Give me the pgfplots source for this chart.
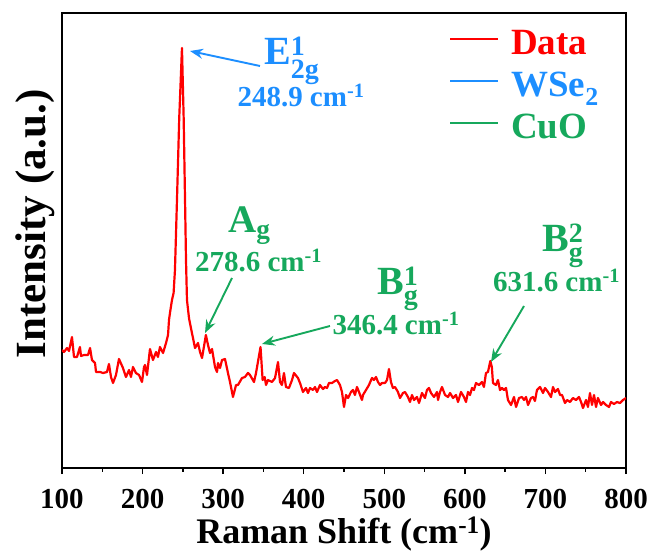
\documentclass[border=0pt]{standalone}
\usepackage{amsmath}
\usepackage{fontspec}
\setmainfont{Liberation Serif}
\usepackage{pgfplots}
\pgfplotsset{compat=1.18}
\usetikzlibrary{arrows.meta}
\definecolor{myblue}{RGB}{28,142,255}
\definecolor{mygreen}{RGB}{22,168,92}
\pgfplotstableread{
x y
100 118
102.5 116
106.2 120
108.7 117
112.4 131
114.9 111
118.6 111
122.3 121
123.6 112
127.3 113
132.3 113
134.8 120
137.2 108
141.0 105
142.2 96
147.2 96
150.9 95
155.8 96
158.3 104
160.8 91
163.3 85
167.0 93
170.7 109
175.7 100
179.4 91
183.2 98
185.6 91
188.1 101
191.8 95
195.6 93
199.3 86
201.8 101
203.0 103
205.5 93
209.2 119
212.9 108
216.7 116
219.1 111
221.6 121
225.4 115
229.1 125
231.6 133
232.8 148
234.0 155
236.5 168
238.5 175
240.2 198
242.7 268
245.5 350
248.9 420
251.0 350
252.7 268
253.9 208
255.1 168
257.6 150
258.8 145
261.3 135
265.1 120
268.8 125
271.3 116
273.8 110
278.6 133
281.2 123
283.7 115
286.2 119
289.9 101
292.4 96
293.6 105
296.1 100
298.6 108
302.3 109
306.0 95
308.5 86
312.2 71
316.0 83
318.4 83
323.4 90
327.1 91
330.8 95
333.3 93
338.3 86
340.8 95
346.4 121
349.0 88
351.5 91
353.2 83
355.7 88
360.6 86
364.4 90
368.1 106
370.6 86
373.0 83
375.5 95
378.0 81
381.7 80
385.5 88
387.9 95
392.9 90
395.4 85
399.1 76
402.8 80
405.3 75
407.8 80
411.5 78
414.0 81
416.5 76
420.2 83
423.9 79
426.4 81
428.9 80
431.4 85
435.1 85
438.8 87
441.3 88
445.0 83
447.5 76
450.0 61
452.5 73
455.0 70
458.7 76
461.2 78
463.6 73
466.1 81
468.6 76
472.3 68
473.6 73
477.3 78
481.0 83
484.7 90
487.2 88
489.7 91
492.2 86
494.7 83
497.2 85
500.9 85
503.4 88
505.8 99
508.3 86
510.8 80
513.3 81
517.0 76
519.5 70
523.2 75
525.7 76
529.4 71
531.9 66
534.4 73
536.9 68
540.6 71
543.1 65
546.8 75
550.5 70
553.0 78
555.5 80
558.0 75
561.7 71
565.4 76
566.7 68
569.2 76
571.6 81
575.4 73
579.1 71
581.6 75
585.3 70
589.0 73
591.5 66
595.2 76
598.9 71
601.4 66
603.9 76
606.4 73
608.9 80
611.3 78
613.8 85
617.5 83
621.3 86
623.7 81
626.2 95
628.7 96
631.6 107
633.5 101
634.9 85
638.6 83
641.1 88
643.6 78
646.1 80
648.6 78
651.1 80
653.5 68
657.3 63
661.0 71
663.5 61
667.2 70
670.9 71
673.4 68
675.9 71
678.4 63
682.1 70
684.6 71
687.0 67
689.5 78
693.3 81
697.0 75
699.5 80
703.2 76
706.9 71
709.4 81
711.9 76
715.6 79
718.1 73
720.6 73
724.3 65
726.8 68
730.5 66
734.2 70
737.9 68
741.7 71
744.2 66
746.6 60
750.4 68
752.8 61
755.3 75
757.8 63
760.3 73
762.8 61
765.2 70
769.0 63
771.5 66
775.2 63
778.9 61
781.4 66
785.1 64
788.8 66
792.5 65
796.3 68
800 70
}\ramandata
\begin{document}
\begin{tikzpicture}
\begin{axis}[
  name=ax,
  scale only axis,
  width=564pt, height=455pt,
  xmin=100, xmax=800, ymin=0, ymax=455,
  axis line style={line width=1.7pt},
  xtick={100,200,...,800},
  minor x tick num=1,
  ytick=\empty,
  xtick pos=bottom,
  tick align=outside,
  major tick length=6pt,
  minor tick length=3.5pt,
  every tick/.style={black, line width=1.4pt},
  /pgf/number format/assume math mode=true,
  xticklabel style={font=\fontsize{29}{32}\selectfont\bfseries, anchor=base, yshift=-34pt},
  xlabel={Raman Shift (cm\textsuperscript{-1})},
  xlabel style={font=\fontsize{36}{40}\selectfont\bfseries, at={(axis description cs:0.5,0)}, anchor=base, yshift=-75pt},
  ylabel={Intensity (a.u.)},
  ylabel style={font=\fontsize{43}{46}\selectfont\bfseries, at={(axis description cs:-0.029,0.537)}, anchor=base, rotate=0},
  legend cell align=left,
  legend image code/.code={\draw[#1] (0pt,9pt) -- (48pt,9pt);},
  legend style={at={(axis cs:580.4,441)}, anchor=north west, draw=none, fill=none, inner sep=0pt, outer sep=0pt,
    font=\fontsize{37}{42}\selectfont\bfseries, column sep=12pt, row sep=0pt,
    nodes={inner sep=0pt, text height=28pt, text depth=14pt}},
]
\addplot[red, line width=2.2pt, line join=round] table[x=x, y=y] {\ramandata};
\addlegendentry{\textcolor{red}{Data}}
\addlegendimage{myblue, line width=2pt}
\addlegendentry{\textcolor{myblue}{WSe\textsubscript{2}}}
\addlegendimage{mygreen, line width=2pt}
\addlegendentry{\textcolor{mygreen}{CuO}}

\draw[myblue, line width=1.9pt, -{Stealth[length=13pt,width=10pt]}] (axis cs:345.7,402) -- (axis cs:258.9,417);
\node[anchor=base west, inner sep=0pt, text=myblue, font=\fontsize{40}{44}\selectfont\bfseries] at (axis cs:350.7,403) {E$^{\textbf{1}}_{\textbf{2g}}$};
\node[anchor=base, inner sep=0pt, text=myblue, font=\fontsize{29}{32}\selectfont\bfseries] at (axis cs:396.6,361) {248.9 cm\textsuperscript{-1}};

\draw[mygreen, line width=1.9pt, -{Stealth[length=13pt,width=10pt]}] (axis cs:311.0,190) -- (axis cs:277.5,135);
\node[anchor=base west, inner sep=0pt, text=mygreen, font=\fontsize{39}{44}\selectfont\bfseries] at (axis cs:306.0,235) {A$_{\textbf{g}}$};
\node[anchor=base, inner sep=0pt, text=mygreen, font=\fontsize{29}{32}\selectfont\bfseries] at (axis cs:343.9,196) {278.6 cm\textsuperscript{-1}};

\draw[mygreen, line width=1.9pt, -{Stealth[length=13pt,width=10pt]}] (axis cs:432.6,142) -- (axis cs:348.2,124);
\node[anchor=base west, inner sep=0pt, text=mygreen, font=\fontsize{40}{44}\selectfont\bfseries] at (axis cs:491.0,173) {B$^{\textbf{1}}_{\textbf{g}}$};
\node[anchor=base, inner sep=0pt, text=mygreen, font=\fontsize{29}{32}\selectfont\bfseries] at (axis cs:514.5,133) {346.4 cm\textsuperscript{-1}};

\draw[mygreen, line width=1.9pt, -{Stealth[length=13pt,width=10pt]}] (axis cs:673.4,162) -- (axis cs:632.4,106);
\node[anchor=base west, inner sep=0pt, text=mygreen, font=\fontsize{40}{44}\selectfont\bfseries] at (axis cs:695.7,216) {B$^{\textbf{2}}_{\textbf{g}}$};
\node[anchor=base, inner sep=0pt, text=mygreen, font=\fontsize{29}{32}\selectfont\bfseries] at (axis cs:713.7,176) {631.6 cm\textsuperscript{-1}};
\end{axis}
\pgfresetboundingbox
\path ([shift={(-62pt,-83pt)}]ax.south west) rectangle ([shift={(24pt,13pt)}]ax.north east);
\end{tikzpicture}
\end{document}
